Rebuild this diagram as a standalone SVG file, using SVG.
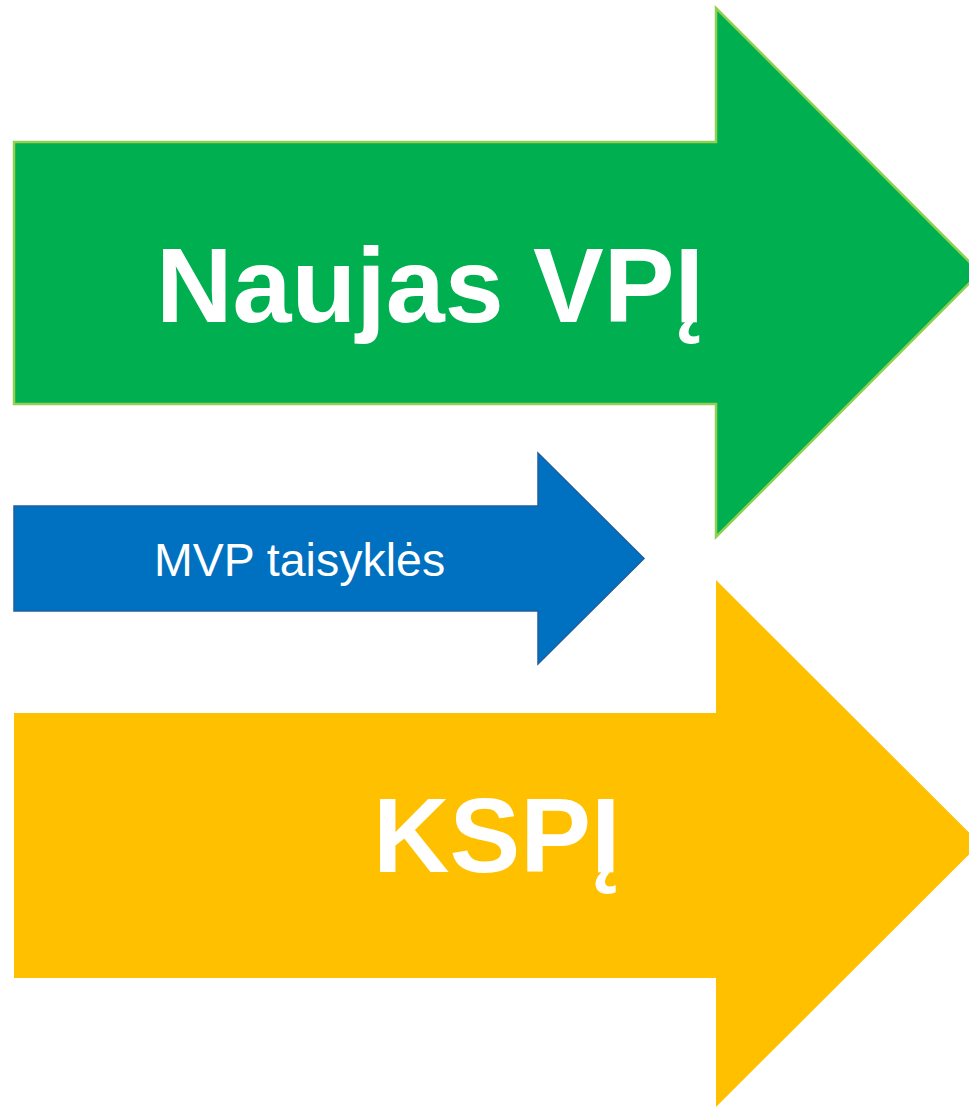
<svg xmlns="http://www.w3.org/2000/svg" width="969" height="1107" viewBox="0 0 969 1107">
<style>
.lbl{font-family:"Liberation Sans",Arial,sans-serif;fill:#FFFFFF}
.big{font-weight:bold;font-size:106px}
.small{font-size:46.5px}
</style>
<rect width="969" height="1107" fill="#FFFFFF"/>
<g id="green-arrow">
<polygon points="14,142 716,142 716,8 980,272.5 716,537 716,404 14,404" fill="#00B050" stroke="#92D050" stroke-width="2.5"/>
<text class="lbl big" x="156" y="322">Naujas VPĮ</text>
</g>
<g id="blue-arrow">
<polygon points="14,506 538,506 538,453 644,558.5 538,664 538,611 14,611" fill="#0070C0" stroke="#1F5FA0" stroke-width="1.5"/>
<text class="lbl small" x="154" y="576">MVP taisyklės</text>
</g>
<g id="yellow-arrow">
<polygon points="14,713 716,713 716,580 980,843.5 716,1107 716,978 14,978" fill="#FFC000"/>
<text class="lbl big" x="373" y="872">KSPĮ</text>
</g>
<g id="connectors"/>
</svg>
